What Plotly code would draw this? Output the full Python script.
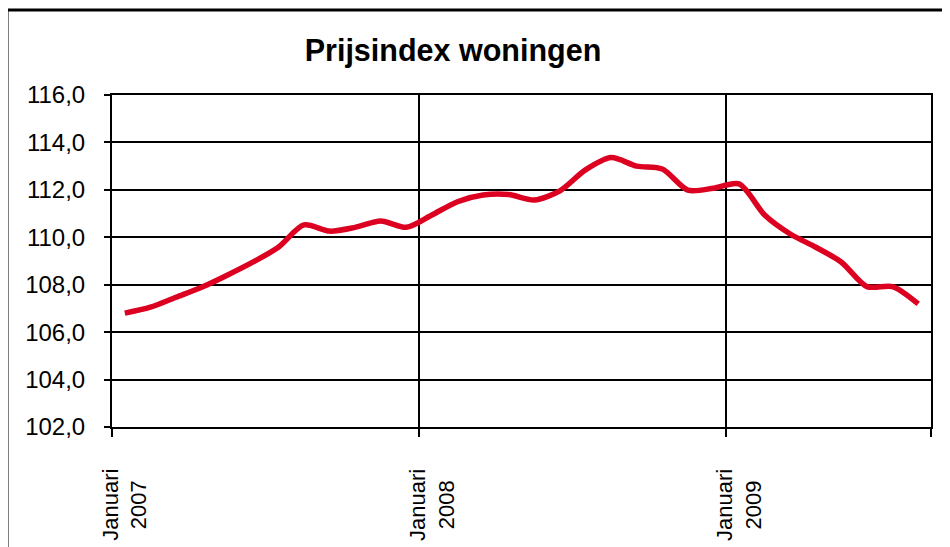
import plotly.graph_objects as go

# Months (categories) Jan 2007 .. Aug 2009
months = [
    "2007-01", "2007-02", "2007-03", "2007-04", "2007-05", "2007-06",
    "2007-07", "2007-08", "2007-09", "2007-10", "2007-11", "2007-12",
    "2008-01", "2008-02", "2008-03", "2008-04", "2008-05", "2008-06",
    "2008-07", "2008-08", "2008-09", "2008-10", "2008-11", "2008-12",
    "2009-01", "2009-02", "2009-03", "2009-04", "2009-05", "2009-06",
    "2009-07", "2009-08",
]

# Price index values
index_values = [
    106.80, 107.05, 107.47, 107.89, 108.40, 108.95, 109.58, 110.52,
    110.26, 110.42, 110.69, 110.42, 110.94, 111.50, 111.78, 111.80,
    111.57, 111.96, 112.84, 113.36, 113.00, 112.88, 111.99, 112.07,
    112.25, 110.94, 110.14, 109.58, 108.95, 107.92, 107.92, 107.19,
]

# Labelled months and their tick text
label_months = ["2007-01", "2008-01", "2009-01"]
label_texts = ["Januari<br>2007", "Januari<br>2008", "Januari<br>2009"]

y_ticks = [102, 104, 106, 108, 110, 112, 114, 116]

FONT = "Arial, Liberation Sans, sans-serif"

x_idx = list(range(len(months)))
n = len(months)
# boundaries between categories every 12 months plus the right end
tick_bounds = [i - 0.5 for i in range(0, n, 12)] + [n - 0.5]

PAGE_OFF = 8  # body margin of the html page

fig = go.Figure()
fig.add_trace(go.Scatter(
    x=x_idx, y=index_values, mode="lines",
    line=dict(color="#DC0021", width=5.5, shape="spline", smoothing=0.8),
    hoverinfo="skip", showlegend=False,
))

fig.update_layout(
    width=950, height=547,
    margin=dict(l=112 - PAGE_OFF, r=19 + PAGE_OFF, t=95 - PAGE_OFF, b=120 + PAGE_OFF),
    paper_bgcolor="white", plot_bgcolor="white",
    separators=",.",
    font=dict(family=FONT, color="black"),
    title=dict(text="<b>Prijsindex woningen</b>", x=(453 - PAGE_OFF) / 950, xref="container",
               xanchor="center", y=1 - (50 - PAGE_OFF) / 547, yref="container", yanchor="middle",
               font=dict(size=30.5, family=FONT, color="black")),
    xaxis=dict(
        range=[-0.5, n - 0.5], tickmode="array", tickvals=tick_bounds,
        ticktext=[""] * len(tick_bounds), ticks="outside", ticklen=8, tickwidth=2,
        tickcolor="black", showgrid=True, gridcolor="black", gridwidth=2,
        showline=True, linecolor="black", linewidth=2, mirror=True, zeroline=False,
    ),
    yaxis=dict(
        range=[y_ticks[0], y_ticks[-1]], tickmode="array", tickvals=y_ticks,
        tickformat=".1f", ticks="outside", ticklen=6, tickwidth=2, tickcolor="black",
        showgrid=True, gridcolor="black", gridwidth=2,
        showline=True, linecolor="black", linewidth=2, mirror=True, zeroline=False,
        tickfont=dict(size=24, family=FONT, color="black"), ticklabelstandoff=14,
    ),
)

for m, t in zip(label_months, label_texts):
    fig.add_annotation(
        x=months.index(m), y=-40 / 332, xref="x", yref="paper",
        text=t, textangle=-90, showarrow=False, align="center",
        xanchor="center", yanchor="top",
        font=dict(size=22, family=FONT, color="black"),
    )

# outer chart border (cropped at right and bottom)
fig.add_shape(type="rect", xref="paper", yref="paper",
              x0=(7 - 112) / 819, x1=1.2, y0=-0.6, y1=(427 - 10) / 332,
              line=dict(color="black", width=3), fillcolor="rgba(0,0,0,0)", layer="above")

fig.write_html("out.html")
